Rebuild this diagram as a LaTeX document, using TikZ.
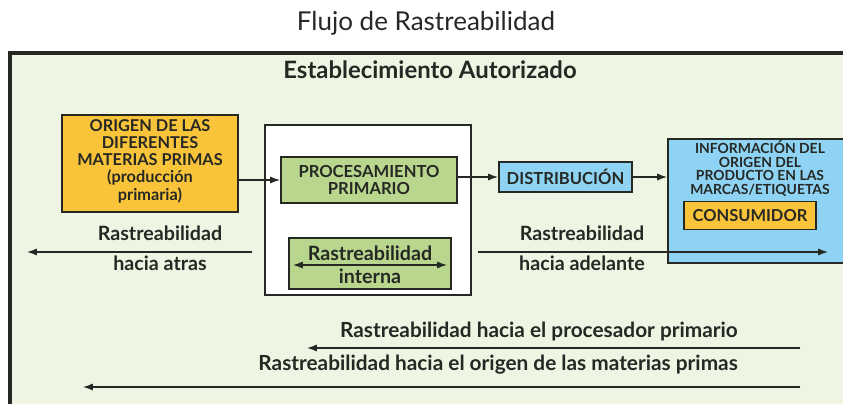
\documentclass[tikz,border=0pt]{standalone}
\usepackage{fontspec}
\setmainfont{Lato}
\usetikzlibrary{arrows.meta}
\definecolor{bgGreen}{RGB}{238,245,227}
\definecolor{boxYellow}{RGB}{250,196,58}
\definecolor{boxGreen}{RGB}{184,214,142}
\definecolor{boxBlue}{RGB}{142,211,244}
\definecolor{lineDark}{RGB}{38,40,36}
\newcommand{\px}{0.025cm}
\newcommand{\boxline}{1.3pt}

\begin{document}
\begin{tikzpicture}[x=0.025cm, y=-0.025cm,
    box/.style={draw=lineDark, line width=\boxline, inner sep=0pt, align=center, text=lineDark,
      font=\bfseries\fontsize{11.8}{12.4}\selectfont},
    flow/.style={draw=lineDark, line width=0.9pt, -{Latex[length=7pt,width=5pt]}},
    dflow/.style={draw=lineDark, line width=0.9pt, {Latex[length=7pt,width=5pt]}-{Latex[length=7pt,width=5pt]}},
    lbl/.style={font=\bfseries\fontsize{14}{16}\selectfont, text=lineDark, inner sep=0pt, anchor=base}]
  \clip (0,0) rectangle (843,403);
  % title and frame
  \node (title) at (426,30) [anchor=base, inner sep=0pt, text=lineDark, font=\fontsize{18.5}{20}\selectfont] {Flujo de Rastreabilidad};
  \draw[draw=lineDark, line width=2.8pt, fill=bgGreen] (10,53) rectangle (880,440);
  \node (estab) at (430,78) [lbl, font=\bfseries\fontsize{17}{19}\selectfont] {Establecimiento Autorizado};

  % boxes
  \node (origen) at (150,163.5) [box, fill=boxYellow, minimum width=176*\px, minimum height=97*\px] {};
  \node (origentxt) at (150,161) [align=center, inner sep=0pt, text=lineDark, font=\bfseries\fontsize{11.6}{12.3}\selectfont]
    {ORIGEN DE LAS\\DIFERENTES\\MATERIAS PRIMAS\\(producción\\primaria)};
  \node (planta) at (368,210) [box, fill=white, minimum width=206*\px, minimum height=170*\px] {};
  \node (proc) at (369,180) [box, fill=boxGreen, minimum width=176*\px, minimum height=46*\px] {PROCESAMIENTO\\PRIMARIO};
  \node (interna) at (370,263.5) [box, fill=boxGreen, minimum width=162*\px, minimum height=51*\px] {};
  \node (intA) at (370,260) [lbl] {Rastreabilidad};
  \node (intB) at (370,283) [lbl] {interna};
  \node (dist) at (565.5,177) [box, fill=boxBlue, minimum width=133*\px, minimum height=30*\px] {DISTRIBUCIÓN};
  \node (info) at (774,201) [box, fill=boxBlue, minimum width=212*\px, minimum height=124*\px] {};
  \node (infotxt) at (760,168.5) [align=center, inner sep=0pt, text=lineDark, font=\bfseries\fontsize{9.9}{9.8}\selectfont]
    {INFORMACIÓN DEL\\ORIGEN DEL\\PRODUCTO EN LAS\\MARCAS/ETIQUETAS};
  \node (cons) at (750,215.5) [box, fill=boxYellow, minimum width=132*\px, minimum height=28*\px, font=\bfseries\fontsize{11.7}{13}\selectfont] {CONSUMIDOR};

  \draw[flow] (origen.east |- proc) -- (proc.west);
  \draw[flow] (proc.east |- dist) -- (dist.west);
  \draw[flow] (dist.east) -- (dist -| info.west);
  \coordinate (intL) at (293,265);
  \coordinate (intR) at (447,265);
  \draw[dflow] (intL) -- (intR);

  % traceability labels
  \node (backA) at (160,240) [lbl] {Rastreabilidad};
  \node (backB) at (160,270) [lbl] {hacia atras};
  \node (fwdA) at (582,240) [lbl] {Rastreabilidad};
  \node (fwdB) at (582,270) [lbl] {hacia adelante};
  \coordinate (backS) at (252,252);
  \coordinate (backE) at (27,252);
  \coordinate (fwdS) at (478,252);
  \coordinate (fwdE) at (828,252);
  \draw[flow] (backS) -- (backE);
  \draw[flow] (fwdS) -- (fwdE);

  \node (procTxt) at (738,337) [lbl, anchor=base east, font=\bfseries\fontsize{14.8}{16}\selectfont] {Rastreabilidad hacia el procesador primario};
  \node (origTxt) at (738,370) [lbl, anchor=base east, font=\bfseries\fontsize{14.8}{16}\selectfont] {Rastreabilidad hacia el origen de las materias primas};
  \coordinate (procS) at (800,348);
  \coordinate (procE) at (307,348);
  \coordinate (origS) at (800,387);
  \coordinate (origE) at (83,387);
  \draw[flow] (procS) -- (procE);
  \draw[flow] (origS) -- (origE);
\end{tikzpicture}
\end{document}
